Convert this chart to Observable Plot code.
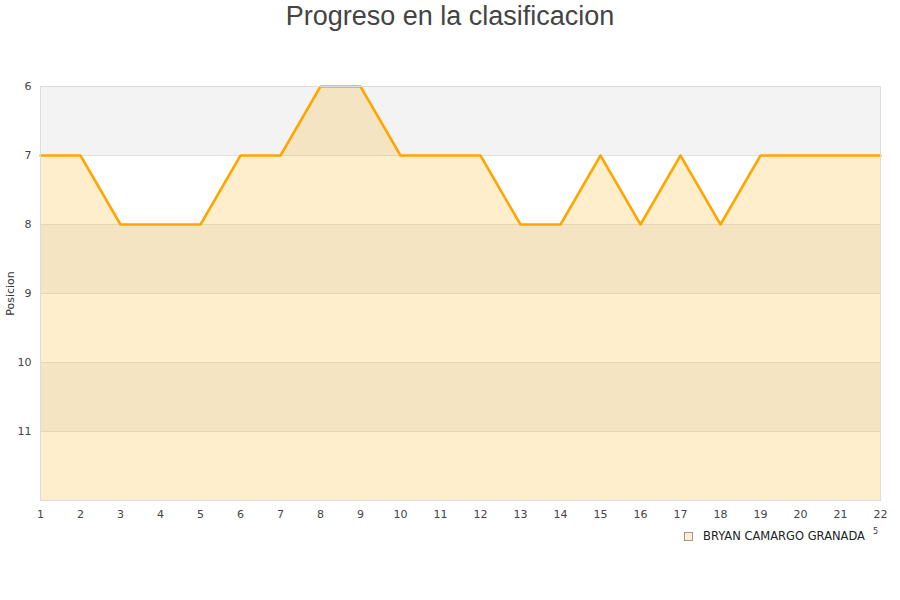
<!DOCTYPE html>
<html>
<head>
<meta charset="utf-8">
<script src="https://cdn.jsdelivr.net/npm/d3@7"></script>
<script src="https://cdn.jsdelivr.net/npm/@observablehq/plot@0.6"></script>
<style>
  html, body { margin: 0; padding: 0; background: #fff; }
  #wrap { position: relative; width: 900px; height: 600px; overflow: hidden; }
  #title { position: absolute; top: 0; left: 0; width: 900px; text-align: center;
    font-family: "Liberation Sans", Arial, sans-serif; font-size: 27px; color: #444; line-height: 32px; }
  #chart { position: absolute; top: 0; left: 0; }
  #legend { position: absolute; left: 684px; top: 529px; font-family: "DejaVu Sans", sans-serif;
    font-size: 11.5px; color: #222; display: flex; align-items: center; }
  #legend .sw { width: 7px; height: 7px; background: #ffeecc; border: 1px solid #999; margin-right: 10px; }
  #stray { position: absolute; left: 873px; top: 527px; font-family: "DejaVu Sans", sans-serif; font-size: 8px; color: #333; }
</style>
</head>
<body>
<div id="wrap">
  <div id="chart"></div>
  <div id="title">Progreso en la clasificacion</div>
  <div id="legend"><div class="sw"></div><span id="legname"></span></div>
  <div id="stray">5</div>
</div>
<script>
const jornadas = [1,2,3,4,5,6,7,8,9,10,11,12,13,14,15,16,17,18,19,20,21,22];
const posiciones = [7,7,8,8,8,7,7,6,6,7,7,7,8,8,7,8,7,8,7,7,7,7];
const yTicks = [6,7,8,9,10,11];
const yDomain = [6,12];
const seriesName = "BRYAN CAMARGO GRANADA";
const yLabel = "Posicion";

document.getElementById("legname").textContent = seriesName;

const data = jornadas.map((j, i) => ({jornada: j, pos: posiciones[i]}));
const bands = [];
for (let v = yDomain[0]; v < yDomain[1]; v += 2) bands.push({y1: v, y2: v + 1});

const FONT = "'DejaVu Sans', sans-serif";

const chart = Plot.plot({
  width: 900,
  height: 600,
  marginTop: 86,
  marginBottom: 100,
  marginLeft: 40,
  marginRight: 20,
  style: {fontFamily: FONT, fontSize: "11px", color: "#444", background: "transparent"},
  x: {domain: [jornadas[0], jornadas[jornadas.length - 1]], label: null},
  y: {domain: yDomain, reverse: true, label: null},
  marks: [
    Plot.rect(bands, {y1: "y1", y2: "y2", fill: "#f3f3f3"}),
    Plot.ruleY(yTicks.slice(1), {stroke: "#e2e2e2", strokeWidth: 1}),
    Plot.areaY(data, {x: "jornada", y1: () => yDomain[1], y2: "pos", fill: "#ffaa00", fillOpacity: 0.2}),
    Plot.lineY(data, {x: "jornada", y: "pos", stroke: "#ffa500", strokeWidth: 2.5}),
    Plot.frame({stroke: "#dcdcdc"}),
    Plot.axisY({ticks: yTicks, tickSize: 0, tickPadding: 9, label: null, fontSize: 11, fontFamily: FONT, fill: "#444", tickFormat: d => String(d)}),
    Plot.axisX({ticks: jornadas, tickSize: 0, tickPadding: 10, label: null, fontSize: 11, fontFamily: FONT, fill: "#444", tickFormat: d => String(d)}),
    Plot.text([yLabel], {frameAnchor: "left", textAnchor: "middle", dx: -30, rotate: -90, text: d => d, fontSize: 11, fontFamily: FONT, fill: "#333"})
  ]
});
document.getElementById("chart").appendChild(chart);
</script>
</body>
</html>
